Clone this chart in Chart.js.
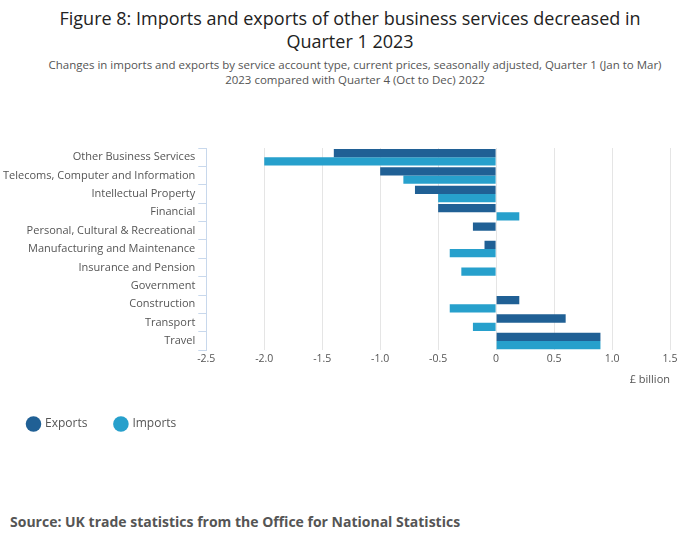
<!DOCTYPE html>
<html>
<head>
<meta charset="utf-8">
<script src="https://cdn.jsdelivr.net/npm/chart.js@4"></script>
<style>
  body { margin: 0; width: 700px; height: 549px; font-family: 'Open Sans', sans-serif; background: #fff; position: relative; }
  h1 { font-size: 18px; font-weight: normal; color: #222; text-align: center; margin: 0; position: absolute; top: 7px; left: 40px; width: 620px; line-height: 23px; }
  .sub { font-size: 11.5px; color: #555; text-align: center; position: absolute; top: 57px; left: 40px; width: 630px; line-height: 15px; }
  .wrap { position: absolute; top: 100px; left: 0; width: 690px; height: 340px; }
  .src { position: absolute; top: 512px; left: 10px; font-size: 14px; font-weight: bold; color: #555; }
</style>
</head>
<body>
<h1>Figure 8: Imports and exports of other business services decreased in Quarter 1 2023</h1>
<div class="sub">Changes in imports and exports by service account type, current prices, seasonally adjusted, Quarter 1 (Jan to Mar) 2023 compared with Quarter 4 (Oct to Dec) 2022</div>
<div class="wrap"><canvas id="chart"></canvas></div>
<div class="src">Source: UK trade statistics from the Office for National Statistics</div>
<script>
const categories = ['Other Business Services', 'Telecoms, Computer and Information', 'Intellectual Property', 'Financial', 'Personal, Cultural & Recreational', 'Manufacturing and Maintenance', 'Insurance and Pension', 'Government', 'Construction', 'Transport', 'Travel'];
const exportsVals = [-1.4, -1.0, -0.7, -0.5, -0.2, -0.1, 0, 0, 0.2, 0.6, 0.9];
const importsVals = [-2.0, -0.8, -0.5, 0.2, 0, -0.4, -0.3, 0, -0.4, -0.2, 0.9];

new Chart(document.getElementById('chart'), {
    type: 'bar',
    data: {
        labels: categories,
        datasets: [
            { label: 'Exports', data: exportsVals, backgroundColor: '#206095', categoryPercentage: 0.9, barPercentage: 1 },
            { label: 'Imports', data: importsVals, backgroundColor: '#27a0cc', categoryPercentage: 0.9, barPercentage: 1 }
        ]
    },
    options: {
        indexAxis: 'y',
        responsive: true,
        maintainAspectRatio: false,
        animation: false,
        layout: { padding: { top: 48, right: 20 } },
        scales: {
            x: {
                min: -2.5, max: 1.5,
                ticks: { stepSize: 0.5, color: '#555', font: { family: 'Open Sans', size: 10.5 } },
                grid: { color: '#e5e5e5', drawTicks: false },
                border: { display: false },
                title: { display: true, text: '£ billion', align: 'end', color: '#555', font: { family: 'Open Sans', size: 11 } }
            },
            y: {
                ticks: { color: '#555', font: { family: 'Open Sans', size: 11 } },
                grid: { display: true, drawOnChartArea: false, color: '#c8d8ec', offset: true, tickLength: 8 },
                border: { color: '#c8d8ec' }
            }
        },
        plugins: {
            legend: {
                position: 'bottom', align: 'start',
                labels: { usePointStyle: true, pointStyle: 'circle', boxWidth: 11, boxHeight: 11, padding: 28, color: '#555', font: { family: 'Open Sans', size: 12 } }
            },
            tooltip: { enabled: false }
        }
    }
});
</script>
</body>
</html>
